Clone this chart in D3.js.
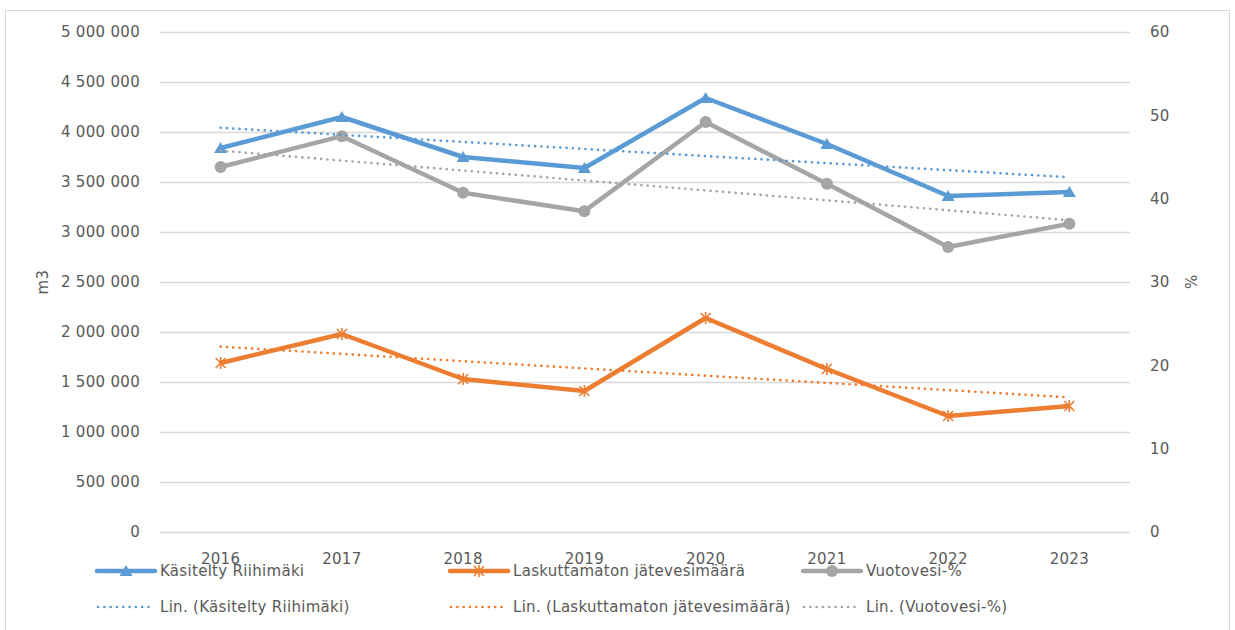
<!DOCTYPE html>
<html>
<head>
<meta charset="utf-8">
<script src="https://cdn.jsdelivr.net/npm/d3@7"></script>
<style>
  body { margin: 0; background: #fff; }
  text { font-family: "DejaVu Sans", sans-serif; font-size: 15px; fill: #595959; letter-spacing: 0.3px; }
</style>
</head>
<body>
<div id="vis"></div>
<script>
var width = 1235;
var height = 630;

var years = ["2016", "2017", "2018", "2019", "2020", "2021", "2022", "2023"];
var kasitelty = [3840000, 4150000, 3750000, 3640000, 4340000, 3880000, 3360000, 3400000];
var laskuttamaton = [1690000, 1980000, 1530000, 1410000, 2140000, 1630000, 1160000, 1260000];
var vuotovesi = [43.8, 47.5, 40.7, 38.5, 49.2, 41.8, 34.2, 37.0];
var leftTicks = [0, 500000, 1000000, 1500000, 2000000, 2500000, 3000000, 3500000, 4000000, 4500000, 5000000];
var rightTicks = [0, 10, 20, 30, 40, 50, 60];

var blue = "#5b9bd5", orange = "#ed7d31", gray = "#a5a5a5";

var x = d3.scaleBand().domain(years).range([160, 1130]);
var yL = d3.scaleLinear().domain([0, 5000000]).range([532, 32]);
var yR = d3.scaleLinear().domain([0, 60]).range([532, 32]);
var fmt = d => d3.format(",")(d).replace(/,/g, " ");

var series = [
  {name: "Käsitelty Riihimäki", values: kasitelty, y: yL, color: blue, marker: "triangle"},
  {name: "Laskuttamaton jätevesimäärä", values: laskuttamaton, y: yL, color: orange, marker: "star"},
  {name: "Vuotovesi-%", values: vuotovesi, y: yR, color: gray, marker: "circle"}
];

// least squares trend over category index, like Excel's linear trendline
function trend(vals) {
  var n = vals.length, mx = (n - 1) / 2, my = d3.mean(vals);
  var sxy = d3.sum(vals, (v, i) => (i - mx) * (v - my));
  var sxx = d3.sum(vals, (v, i) => (i - mx) * (i - mx));
  var b = sxy / sxx, a = my - b * mx;
  return [a, a + b * (n - 1)];
}

var svg = d3.select("#vis").append("svg")
  .attr("width", width).attr("height", height);

svg.append("rect")
  .attr("x", 5.5).attr("y", 10.5).attr("width", 1224).attr("height", 640)
  .attr("fill", "#fff").attr("stroke", "#d9d9d9");

// gridlines
svg.append("g").selectAll("line")
  .data(leftTicks)
  .enter().append("line")
  .attr("x1", 160).attr("x2", 1130)
  .attr("y1", d => Math.round(yL(d)) + 0.5).attr("y2", d => Math.round(yL(d)) + 0.5)
  .attr("stroke", "#d9d9d9").attr("stroke-width", 1.3);

// left axis labels
svg.append("g").selectAll("text")
  .data(leftTicks)
  .enter().append("text")
  .attr("x", 140).attr("y", d => yL(d)).attr("dy", "0.36em")
  .attr("text-anchor", "end")
  .text(fmt);

// right axis labels
svg.append("g").selectAll("text")
  .data(rightTicks)
  .enter().append("text")
  .attr("x", 1150).attr("y", d => yR(d)).attr("dy", "0.36em")
  .text(d => d);

// category labels
svg.append("g").selectAll("text")
  .data(years)
  .enter().append("text")
  .attr("x", d => x(d) + x.bandwidth() / 2).attr("y", 564)
  .attr("text-anchor", "middle")
  .text(d => d);

svg.append("text")
  .attr("transform", "translate(48,282) rotate(-90)")
  .attr("text-anchor", "middle")
  .text("m3");

svg.append("text")
  .attr("transform", "translate(1185,282) rotate(90)")
  .attr("text-anchor", "middle")
  .text("%");

function drawMarker(g, type, color, cx, cy) {
  if (type === "triangle") {
    g.append("path")
      .attr("d", `M${cx},${cy - 6}L${cx + 6.5},${cy + 5}L${cx - 6.5},${cy + 5}Z`)
      .attr("fill", color);
  } else if (type === "circle") {
    g.append("circle").attr("cx", cx).attr("cy", cy).attr("r", 6).attr("fill", color);
  } else {
    g.append("path")
      .attr("d", `M${cx - 5},${cy - 5}L${cx + 5},${cy + 5}M${cx + 5},${cy - 5}L${cx - 5},${cy + 5}M${cx},${cy - 6}L${cx},${cy + 6}`)
      .attr("stroke", color).attr("stroke-width", 1.6).attr("fill", "none");
  }
}

var cxOf = (d, i) => x(years[i]) + x.bandwidth() / 2;

series.forEach(function(s) {
  var g = svg.append("g");
  var line = d3.line().x(cxOf).y(d => s.y(d));
  g.append("path")
    .datum(s.values)
    .attr("d", line)
    .attr("fill", "none")
    .attr("stroke", s.color)
    .attr("stroke-width", 4.5)
    .attr("stroke-linejoin", "round");
  s.values.forEach((v, i) => drawMarker(g, s.marker, s.color, cxOf(v, i), s.y(v)));
});

// trend lines
series.forEach(function(s) {
  var t = trend(s.values);
  svg.append("line")
    .attr("x1", cxOf(null, 0)).attr("x2", cxOf(null, years.length - 1))
    .attr("y1", s.y(t[0])).attr("y2", s.y(t[1]))
    .attr("stroke", s.color).attr("stroke-width", 2.6)
    .attr("stroke-dasharray", "0.1 6.2").attr("stroke-linecap", "round");
});

// legend
var legX = [97, 450, 803];
var legend = svg.append("g");
series.forEach(function(s, i) {
  var lx = legX[i];
  legend.append("line")
    .attr("x1", lx).attr("x2", lx + 58).attr("y1", 571).attr("y2", 571)
    .attr("stroke", s.color).attr("stroke-width", 4.5).attr("stroke-linecap", "round");
  drawMarker(legend, s.marker, s.color, lx + 29, 571);
  legend.append("text")
    .attr("x", lx + 63).attr("y", 571).attr("dy", "0.36em")
    .text(s.name);

  legend.append("line")
    .attr("x1", lx + 1).attr("x2", lx + 56).attr("y1", 607).attr("y2", 607)
    .attr("stroke", s.color).attr("stroke-width", 2.6)
    .attr("stroke-dasharray", "0.1 6.2").attr("stroke-linecap", "round");
  legend.append("text")
    .attr("x", lx + 63).attr("y", 607).attr("dy", "0.36em")
    .text("Lin. (" + s.name + ")");
});
</script>
</body>
</html>
